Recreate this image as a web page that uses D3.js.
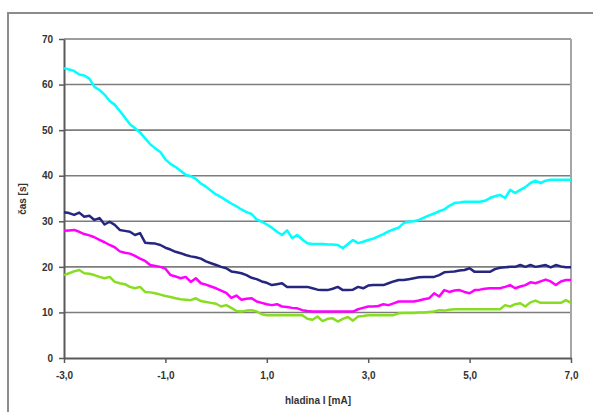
<!DOCTYPE html>
<html>
<head>
<meta charset="utf-8">
<script src="https://cdn.jsdelivr.net/npm/d3@7"></script>
<style>
  body { margin: 0; background: #fff; }
  svg text { font-family: "Liberation Sans", Arial, sans-serif; }
</style>
</head>
<body>
<div id="main"></div>
<script>
// sampling of the current axis, step 0.1 mA from -3.0 to 7.0
const currents = d3.range(0, 101).map(i => Math.round((-3 + i * 0.1) * 10) / 10);

const cyanTimes = [
  63.6, 63.3, 63.0, 62.2, 62.0, 61.3, 59.5, 58.8, 57.8, 56.4,
  55.6, 54.2, 52.8, 51.3, 50.4, 49.5, 48.2, 46.9, 46.0, 45.2,
  43.6, 42.6, 41.9, 41.1, 40.2, 39.9, 39.3, 38.3, 37.6, 36.7,
  35.9, 35.3, 34.6, 33.9, 33.3, 32.6, 32.0, 31.6, 30.4, 29.9,
  29.3, 28.6, 27.7, 27.0, 28.0, 26.3, 27.0, 26.0, 25.2, 25.0,
  25.0, 25.0, 24.9, 24.9, 24.8, 24.1, 25.0, 25.9, 25.2, 25.5,
  25.9, 26.2, 26.7, 27.2, 27.8, 28.2, 28.6, 29.6, 29.9, 30.0,
  30.3, 30.8, 31.3, 31.7, 32.2, 32.6, 33.4, 34.0, 34.1, 34.3,
  34.3, 34.3, 34.3, 34.5, 35.1, 35.5, 35.8, 35.1, 36.9, 36.2,
  36.9, 37.5, 38.4, 38.9, 38.4, 38.9, 39.1, 39.1, 39.1, 39.1,
  39.1
];

const navyTimes = [
  32.0, 31.8, 31.4, 31.9, 31.0, 31.2, 30.3, 30.7, 29.3, 29.9,
  29.2, 28.1, 27.9, 27.7, 27.0, 27.4, 25.3, 25.2, 25.1, 24.8,
  24.2, 23.8, 23.3, 23.0, 22.6, 22.3, 22.1, 21.8, 21.2, 20.8,
  20.4, 20.0, 19.7, 19.0, 18.8, 18.6, 18.2, 17.6, 17.3, 16.8,
  16.5, 16.0, 16.2, 16.4, 15.6, 15.6, 15.6, 15.6, 15.6, 15.3,
  15.0, 14.9, 14.9, 15.2, 15.6, 14.9, 14.9, 15.0, 15.6, 15.3,
  15.9, 16.0, 16.0, 16.0, 16.4, 16.8, 17.1, 17.1, 17.3, 17.5,
  17.7, 17.8, 17.8, 17.8, 18.2, 18.8, 18.9, 19.0, 19.2, 19.3,
  19.7, 18.9, 18.9, 18.9, 18.9, 19.5, 19.8, 19.9, 20.0, 20.0,
  20.4, 20.0, 20.4, 20.0, 20.2, 20.4, 19.9, 20.4, 20.1, 19.9,
  19.9
];

const magentaTimes = [
  27.9, 28.0, 28.1, 27.7, 27.2, 26.9, 26.5, 25.9, 25.4, 24.8,
  24.3, 23.4, 23.1, 22.9, 22.4, 21.8, 21.3, 20.4, 20.2, 20.0,
  19.6, 18.2, 17.9, 17.5, 17.8, 16.7, 17.5, 16.4, 16.1, 15.7,
  15.3, 14.8, 14.3, 13.2, 13.7, 12.8, 13.0, 13.1, 12.4, 12.1,
  11.8, 11.6, 11.8, 11.3, 11.2, 11.0, 10.9, 10.5, 10.3, 10.2,
  10.2, 10.2, 10.2, 10.2, 10.2, 10.2, 10.2, 10.2, 10.7, 11.0,
  11.3, 11.3, 11.4, 11.8, 11.6, 12.0, 12.4, 12.4, 12.4, 12.4,
  12.6, 12.9, 13.1, 14.2, 13.5, 14.9, 14.5, 14.8, 14.9, 14.5,
  14.2, 14.9, 15.0, 15.2, 15.3, 15.3, 15.3, 15.6, 16.0, 15.3,
  15.7, 16.0, 16.6, 16.4, 16.8, 17.2, 16.8, 16.0, 16.8, 17.1,
  17.1
];

const greenTimes = [
  18.2, 18.6, 19.0, 19.3, 18.6, 18.5, 18.2, 17.8, 17.5, 17.8,
  16.7, 16.4, 16.2, 15.6, 15.3, 15.6, 14.5, 14.4, 14.2, 13.9,
  13.6, 13.4, 13.1, 12.9, 12.8, 12.7, 13.1, 12.5, 12.3, 12.1,
  11.9, 11.3, 11.6, 11.0, 10.3, 10.2, 10.4, 10.5, 10.2, 9.6,
  9.4, 9.4, 9.4, 9.4, 9.4, 9.4, 9.4, 9.4, 8.6, 8.4,
  9.1, 8.1, 8.6, 8.7, 8.0, 8.6, 9.0, 8.2, 9.1, 9.2,
  9.4, 9.4, 9.4, 9.4, 9.4, 9.4, 9.8, 9.9, 9.9, 9.9,
  10.0, 10.0, 10.1, 10.2, 10.5, 10.4, 10.6, 10.7, 10.7, 10.7,
  10.7, 10.7, 10.7, 10.7, 10.7, 10.7, 10.7, 11.6, 11.3, 11.8,
  12.0, 11.3, 12.2, 12.6, 12.1, 12.1, 12.1, 12.1, 12.1, 12.7,
  12.1
];

const seriesColors = ["#00ffff", "#262680", "#ff00ff", "#88dd22"];
const yTicks = [0, 10, 20, 30, 40, 50, 60, 70];
const xTicks = [-3, -1, 1, 3, 5, 7];
const xTitle = "hladina I [mA]";
const yTitle = "čas [s]";

const width = 593, height = 412;
const margin = { left: 64, right: 22, top: 39, bottom: 54 };

const svg = d3.select("#main").append("svg")
  .attr("width", width)
  .attr("height", height);

// outer chart frame
svg.append("rect")
  .attr("x", 8).attr("y", 13)
  .attr("width", 700).attr("height", 500)
  .attr("fill", "none")
  .attr("stroke", "#8c8c8c")
  .attr("stroke-width", 2);

const x = d3.scaleLinear().domain([-3, 7]).range([margin.left, width - margin.right]);
const y = d3.scaleLinear().domain([0, 70]).range([height - margin.bottom, margin.top]);

// gridlines
svg.append("g")
  .selectAll("line")
  .data(yTicks.filter(d => d > 0))
  .join("line")
    .attr("x1", x(-3)).attr("x2", x(7))
    .attr("y1", d => y(d)).attr("y2", d => y(d))
    .attr("stroke", "#7d7d7d")
    .attr("stroke-width", 1.6);

// right plot border
svg.append("line")
  .attr("x1", x(7)).attr("x2", x(7))
  .attr("y1", y(70)).attr("y2", y(0))
  .attr("stroke", "#a6a6a6")
  .attr("stroke-width", 2);

const fmt = d => d3.format(".1f")(d).replace(".", ",").replace("−", "-");

const xAxis = svg.append("g")
  .attr("transform", `translate(0,${y(0)})`)
  .call(d3.axisBottom(x).tickValues(xTicks).tickSize(5).tickSizeOuter(0).tickPadding(9).tickFormat(fmt));

const yAxis = svg.append("g")
  .attr("transform", `translate(${x(-3)},0)`)
  .call(d3.axisLeft(y).tickValues(yTicks).tickSize(5).tickSizeOuter(0).tickPadding(6));

[xAxis, yAxis].forEach(g => {
  g.select(".domain").attr("stroke", "#5a5a5a").attr("stroke-width", 2);
  g.selectAll(".tick line").attr("stroke", "#5a5a5a").attr("stroke-width", 1.5);
  g.selectAll(".tick text")
    .attr("fill", "#333")
    .style("font-size", "10px")
    .style("font-weight", "bold")
    .style("font-family", "'Liberation Sans', Arial, sans-serif");
});

// lines
const allSeries = [cyanTimes, navyTimes, magentaTimes, greenTimes];
const line = d3.line()
  .x((d, i) => x(currents[i]))
  .y(d => y(d));

svg.append("g")
  .selectAll("path")
  .data(allSeries.slice().reverse())
  .join("path")
    .attr("d", d => line(d))
    .attr("fill", "none")
    .attr("stroke", (d, i) => seriesColors[allSeries.length - 1 - i])
    .attr("stroke-width", 2.5)
    .attr("stroke-linejoin", "round");

// axis titles
svg.append("text")
  .attr("x", 318).attr("y", 404)
  .attr("text-anchor", "middle")
  .attr("fill", "#333")
  .style("font-size", "10px")
  .style("font-weight", "bold")
  .text(xTitle);

svg.append("text")
  .attr("transform", "translate(26,199) rotate(-90)")
  .attr("text-anchor", "middle")
  .attr("fill", "#333")
  .style("font-size", "10px")
  .style("font-weight", "bold")
  .text(yTitle);
</script>
</body>
</html>
